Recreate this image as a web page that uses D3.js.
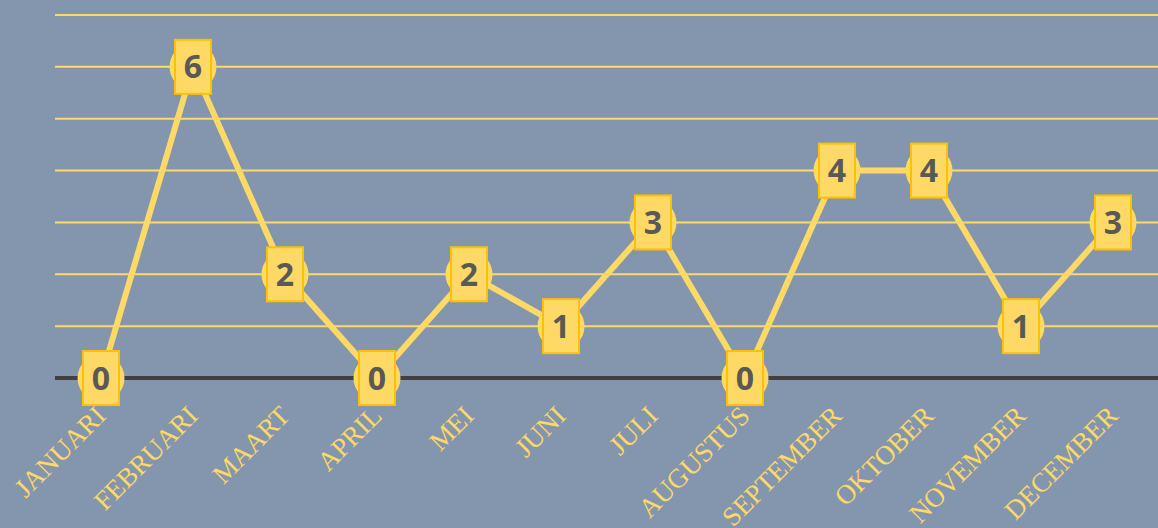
<!DOCTYPE html>
<html><head><meta charset="utf-8">
<script src="https://cdn.jsdelivr.net/npm/d3@7"></script>
<style>html,body{margin:0;padding:0;background:#8496ae;overflow:hidden}</style>
</head><body><svg id="c" width="1158" height="528"></svg>
<script>
const categories = ["JANUARI","FEBRUARI","MAART","APRIL","MEI","JUNI","JULI","AUGUSTUS","SEPTEMBER","OKTOBER","NOVEMBER","DECEMBER"];
const values = [0,6,2,0,2,1,3,0,4,4,1,3];
const yTicks = [0,1,2,3,4,5,6,7];

const svg = d3.select("#c");
const W = 1158, H = 528;
svg.append("rect").attr("width",W).attr("height",H).attr("fill","#8496ae");

const x = d3.scaleBand().domain(categories).range([55, 55+12*92]).paddingInner(0).paddingOuter(0);
const y = d3.scaleLinear().domain([0,7]).range([378, 15]);

// gridlines
svg.append("g").selectAll("line").data(yTicks.filter(d=>d>0)).join("line")
  .attr("x1",55).attr("x2",W).attr("y1",d=>y(d)).attr("y2",d=>y(d))
  .attr("stroke","#FFD966").attr("stroke-width",2);

// baseline
svg.append("line").attr("x1",55).attr("x2",W).attr("y1",y(0)).attr("y2",y(0))
  .attr("stroke","#404040").attr("stroke-width",4);

const cx = d => x(d) + x.bandwidth()/2;

// line
svg.append("path").datum(values)
  .attr("d", d3.line().x((d,i)=>cx(categories[i])).y(d=>y(d)))
  .attr("fill","none").attr("stroke","#FFD966").attr("stroke-width",6).attr("stroke-linejoin","round");

// markers
const g = svg.append("g").selectAll("g").data(values).join("g")
  .attr("transform",(d,i)=>`translate(${cx(categories[i])},${y(d)})`);
g.append("circle").attr("r",23.5).attr("fill","#FFD966");
g.append("rect").attr("x",-18).attr("y",-27).attr("width",36).attr("height",54)
  .attr("fill","#FFD966").attr("stroke","#FFC000").attr("stroke-width",2);
g.append("text").text(d=>d).attr("text-anchor","middle").attr("dy","0.36em")
  .attr("font-family","'Open Sans', sans-serif").attr("font-weight","bold").attr("font-size",32).attr("fill","#595959");

// axis labels
svg.append("g").selectAll("text").data(categories).join("text")
  .attr("transform",d=>`translate(${cx(d)-7},${404}) rotate(-45)`)
  .attr("text-anchor","end").attr("dy","0.7em")
  .attr("font-family","'Liberation Serif', serif").attr("font-size",27).attr("fill","#FFD966")
  .text(d=>d);
</script></body></html>
